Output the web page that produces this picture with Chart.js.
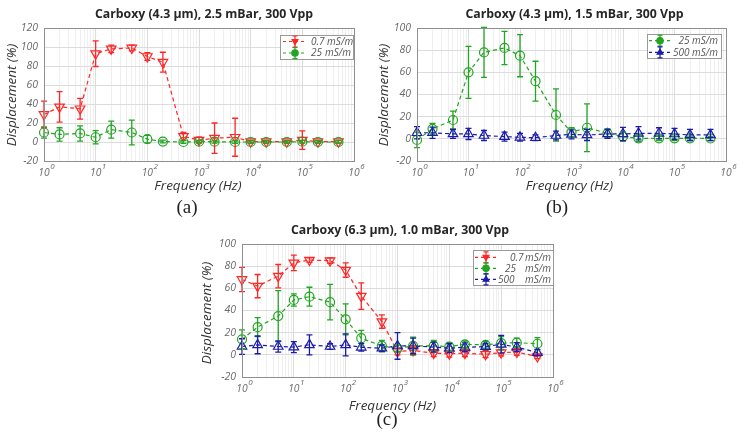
<!DOCTYPE html>
<html>
<head>
<meta charset="utf-8">
<script src="https://cdn.jsdelivr.net/npm/chart.js@4.4.1/dist/chart.umd.min.js"></script>
<style>
  html, body { margin: 0; padding: 0; background: #fff; }
  body { width: 744px; height: 436px; position: relative; overflow: hidden; }
  canvas { position: absolute; }
</style>
</head>
<body>
<canvas id="chartA" width="372" height="218" style="left:0;top:0"></canvas>
<canvas id="chartB" width="372" height="218" style="left:372px;top:0"></canvas>
<canvas id="chartC" width="400" height="218" style="left:180px;top:218px"></canvas>
<script>
// frequencies (Hz), shared by all panels
const freqs = [1, 2, 5, 10, 20, 50, 100, 200, 500, 1e3, 2e3, 5e3, 1e4, 2e4, 5e4, 1e5, 2e5, 5e5];
const decades = [0, 1, 2, 3, 4, 5, 6];

// (a) Carboxy 4.3 um, 2.5 mBar
const aLow    = [29, 37, 35, 93, 98, 99, 90, 84, 6, 2, 4, 5, 0.3, 0.3, 0.3, 2, 0.3, 0.3];
const aLowErr = [14, 16, 11, 13.5, 4, 3, 4, 10.5, 4, 3, 16, 20, 1.5, 1.5, 1.5, 9.7, 1.5, 1.5];
const aMid    = [10, 8, 9, 5, 13, 10, 3, 0.5, 0, 0.3, 0.3, 0, 0, 0, 0, 0.3, 0, 0];
const aMidErr = [6, 7, 8, 7, 9, 13, 4, 1.5, 1.5, 1.5, 1.5, 1.5, 1.5, 1.5, 1.5, 1.5, 1.5, 1.5];

// (b) Carboxy 4.3 um, 1.5 mBar
const bMid     = [-1, 9, 17, 60, 78, 82, 75, 52, 21.5, 6, 10, 5, 2, 0.5, 0.5, 0.5, 0.5, 0.3];
const bMidErr  = [7, 5, 8, 23.5, 22.5, 15, 19, 18, 23.5, 4, 21.5, 4, 4, 3, 2, 2, 2, 2];
const bHigh    = [5.5, 5.5, 4.4, 4.4, 3, 2, 1.4, 1, 3, 4, 3.5, 4.4, 4.4, 5, 5, 4.4, 3.5, 3.5];
const bHighErr = [5.5, 5, 4, 5, 4.5, 4, 3.5, 2.5, 4, 4, 5, 4, 6, 6, 5, 5, 5, 5];

// (c) Carboxy 6.3 um, 1.0 mBar
const cLow     = [68, 62, 71, 83, 85.5, 85, 76.5, 53, 30, 3, 4, 1.5, 1, 1.5, 0.5, 2, 2.5, -1.5];
const cLowErr  = [11, 10.5, 10.5, 7, 2, 2.5, 6.5, 12, 6, 3, 4, 3, 3, 3, 3, 3, 3, 2];
const cMid     = [14, 25, 35, 49.5, 52.5, 47.5, 32, 15, 8, 6, 8, 8, 7.5, 9.5, 9, 10.5, 11, 10];
const cMidErr  = [8.5, 8.5, 23, 5.5, 8.5, 16, 14, 7, 5, 3, 8, 5, 3.5, 3, 3, 6, 4, 5.5];
const cHigh    = [7.5, 9, 7.5, 7, 9, 7.5, 9, 6.8, 6, 8, 8, 7, 6, 6.8, 7.4, 9.5, 7, 2];
const cHighErr = [7, 8, 5, 5, 9, 2.5, 10, 3.5, 3, 12, 7, 4.5, 4, 4, 3, 8, 4, 3];

const RED = '#ff2626', GREEN = '#22a522', BLUE = '#1c1caa';
const FONT = '"Open Sans"';

function marker(ctx, style, x, y, r, fill) {
  ctx.beginPath();
  if (style === 'circle') {
    ctx.arc(x, y, r, 0, Math.PI * 2);
  } else {
    const dir = style === 'down' ? -1 : 1;
    ctx.moveTo(x, y - dir * r);
    ctx.lineTo(x + r * 0.9, y + dir * r * 0.6);
    ctx.lineTo(x - r * 0.9, y + dir * r * 0.6);
    ctx.closePath();
  }
  if (fill) ctx.fill();
  ctx.stroke();
}

const errorBars = {
  id: 'errorBars',
  afterDatasetsDraw(chart) {
    const ctx = chart.ctx, ys = chart.scales.y;
    ctx.save();
    chart.data.datasets.forEach((ds, i) => {
      const meta = chart.getDatasetMeta(i);
      ctx.strokeStyle = ds.borderColor;
      ctx.lineWidth = 1.3;
      meta.data.forEach((pt, j) => {
        const v = ds.data[j].y, e = ds.errors[j];
        const t = ys.getPixelForValue(v + e), b = ys.getPixelForValue(v - e);
        ctx.beginPath();
        ctx.moveTo(pt.x, t); ctx.lineTo(pt.x, b);
        ctx.moveTo(pt.x - 3, t); ctx.lineTo(pt.x + 3, t);
        ctx.moveTo(pt.x - 3, b); ctx.lineTo(pt.x + 3, b);
        ctx.stroke();
      });
    });
    ctx.restore();
  }
};

// frame, titles, x tick labels, legend
const deco = {
  id: 'deco',
  afterDraw(chart, args, o) {
    const ctx = chart.ctx, a = chart.chartArea, xs = chart.scales.x;
    ctx.save();
    ctx.strokeStyle = '#8f8f8f';
    ctx.lineWidth = 1;
    ctx.strokeRect(Math.round(a.left) + 0.5, Math.round(a.top) + 0.5,
                   Math.round(a.right - a.left), Math.round(a.bottom - a.top));

    // x tick labels 10^n
    ctx.fillStyle = '#6a6a6a';
    ctx.textBaseline = 'middle';
    decades.forEach(k => {
      const x = xs.getPixelForValue(Math.pow(10, k));
      ctx.font = 'italic 10.3px ' + FONT;
      ctx.textAlign = 'center';
      ctx.fillText('10', x, a.bottom + 11.7);
      const w = ctx.measureText('10').width;
      ctx.font = 'italic 8px ' + FONT;
      ctx.textAlign = 'left';
      ctx.fillText(String(k), x + w / 2 + 0.5, a.bottom + 5.5);
    });

    // title and axis titles
    ctx.fillStyle = '#262626';
    ctx.textAlign = 'center';
    ctx.font = 'bold 12.3px ' + FONT;
    ctx.fillText(o.title, o.titlePos[0], o.titlePos[1]);
    ctx.fillStyle = '#333';
    ctx.font = 'italic 13.5px ' + FONT;
    ctx.fillText('Frequency (Hz)', o.xlabelPos[0], o.xlabelPos[1]);
    ctx.save();
    ctx.translate(o.ylabelPos[0], o.ylabelPos[1]);
    ctx.rotate(-Math.PI / 2);
    ctx.fillText('Displacement (%)', 0, 0);
    ctx.restore();
    ctx.fillStyle = '#222';
    ctx.font = '19px "Liberation Serif"';
    ctx.fillText(o.letter, o.letterPos[0], o.letterPos[1]);

    // legend
    const L = o.legend;
    ctx.fillStyle = '#fff';
    ctx.fillRect(L.x, L.y, L.w, L.h);
    ctx.strokeStyle = '#9a9a9a';
    ctx.strokeRect(L.x + 0.5, L.y + 0.5, L.w, L.h);
    ctx.font = 'italic 10px ' + FONT;
    L.rows.forEach((row, i) => {
      const s = chart.data.datasets[i];
      ctx.strokeStyle = s.borderColor;
      ctx.fillStyle = s.borderColor;
      ctx.lineWidth = 1.2;
      ctx.setLineDash([3, 3]);
      ctx.beginPath();
      ctx.moveTo(L.s0, row.y); ctx.lineTo(L.s1, row.y);
      ctx.stroke();
      ctx.setLineDash([]);
      ctx.beginPath();
      ctx.moveTo(L.m, row.y - 5.5); ctx.lineTo(L.m, row.y + 5.5);
      ctx.moveTo(L.m - 2.5, row.y - 5.5); ctx.lineTo(L.m + 2.5, row.y - 5.5);
      ctx.moveTo(L.m - 2.5, row.y + 5.5); ctx.lineTo(L.m + 2.5, row.y + 5.5);
      ctx.stroke();
      marker(ctx, s.mark, L.m, row.y, 3.2, true);
      ctx.fillStyle = '#555';
      row.parts.forEach(p => {
        ctx.textAlign = p.align || 'left';
        ctx.fillText(p.t, p.x, row.y + 0.5);
      });
    });
    ctx.restore();
  }
};

function makePanel(id, p) {
  const cv = document.getElementById(id);
  const W = cv.width, H = cv.height, A = p.area;
  const styles = { down: 'triangle', up: 'triangle', circle: 'circle' };
  new Chart(cv, {
    type: 'line',
    data: {
      datasets: p.series.map((s, i) => ({
        label: s.label,
        data: freqs.map((f, j) => ({ x: f, y: s.values[j] })),
        errors: s.errors,
        mark: s.mark,
        borderColor: s.color,
        backgroundColor: s.color,
        borderWidth: 1.2,
        borderDash: [4, 3],
        pointStyle: styles[s.mark],
        pointRotation: s.mark === 'down' ? 180 : 0,
        pointRadius: s.mark === 'circle' ? 4.5 : 5.5,
        pointBorderWidth: 1.2,
        pointBackgroundColor: 'rgba(0,0,0,0)',
        pointBorderColor: s.color,
        order: p.series.length - i,
        clip: false,
        tension: 0
      }))
    },
    options: {
      responsive: false,
      animation: false,
      events: [],
      layout: { padding: { left: 0, top: A.t, right: W - A.r, bottom: 0 } },
      plugins: {
        legend: { display: false },
        tooltip: { enabled: false },
        deco: p.deco
      },
      scales: {
        x: {
          type: 'logarithmic',
          min: 1,
          max: 1e6,
          afterBuildTicks: scale => {
            const t = [];
            decades.forEach(k => {
              for (let m = 1; m <= 9; m++) {
                const v = m * Math.pow(10, k);
                if (v <= 1e6) t.push({ value: v, major: m === 1 });
              }
            });
            scale.ticks = t;
          },
          afterFit: s => { s.height = H - A.b; },
          ticks: { display: false },
          grid: {
            drawTicks: false,
            color: c => (c.tick && c.tick.major) ? '#dcdcdc' : '#efefef'
          },
          border: { display: false }
        },
        y: {
          min: -20,
          max: p.ymax,
          afterFit: s => { s.width = A.l; },
          ticks: {
            stepSize: 20,
            padding: 6,
            color: '#6a6a6a',
            font: { family: 'Open Sans', size: 10.5, style: 'italic' }
          },
          grid: { drawTicks: false, color: '#dcdcdc' },
          border: { display: false }
        }
      }
    },
    plugins: [errorBars, deco]
  });
}

makePanel('chartA', {
  area: { l: 44, r: 354, t: 28, b: 161 },
  ymax: 120,
  series: [
    { label: '0.7 mS/m', values: aLow, errors: aLowErr, color: RED, mark: 'down' },
    { label: '25 mS/m', values: aMid, errors: aMidErr, color: GREEN, mark: 'circle' }
  ],
  deco: {
    title: 'Carboxy (4.3 μm), 2.5 mBar, 300 Vpp', titlePos: [204, 14],
    xlabelPos: [198, 186], ylabelPos: [12, 95], letter: '(a)', letterPos: [187, 208],
    legend: {
      x: 280, y: 35, w: 73, h: 24, s0: 283, s1: 307, m: 295,
      rows: [
        { y: 41.5, parts: [{ t: '0.7 mS/m', x: 311 }] },
        { y: 53, parts: [{ t: '25', x: 311 }, { t: 'mS/m', x: 351, align: 'right' }] }
      ]
    }
  }
});

makePanel('chartB', {
  area: { l: 45, r: 354, t: 28, b: 161 },
  ymax: 100,
  series: [
    { label: '25 mS/m', values: bMid, errors: bMidErr, color: GREEN, mark: 'circle' },
    { label: '500 mS/m', values: bHigh, errors: bHighErr, color: BLUE, mark: 'up' }
  ],
  deco: {
    title: 'Carboxy (4.3 μm), 1.5 mBar, 300 Vpp', titlePos: [202.5, 14],
    xlabelPos: [197.5, 186], ylabelPos: [12, 95], letter: '(b)', letterPos: [185, 208],
    legend: {
      x: 275, y: 34, w: 74, h: 24, s0: 277, s1: 300, m: 288,
      rows: [
        { y: 40.7, parts: [{ t: '25 mS/m', x: 346, align: 'right' }] },
        { y: 52.3, parts: [{ t: '500 mS/m', x: 346, align: 'right' }] }
      ]
    }
  }
});

makePanel('chartC', {
  area: { l: 62, r: 373, t: 26, b: 159 },
  ymax: 100,
  series: [
    { label: '0.7 mS/m', values: cLow, errors: cLowErr, color: RED, mark: 'down' },
    { label: '25 mS/m', values: cMid, errors: cMidErr, color: GREEN, mark: 'circle' },
    { label: '500 mS/m', values: cHigh, errors: cHighErr, color: BLUE, mark: 'up' }
  ],
  deco: {
    title: 'Carboxy (6.3 μm), 1.0 mBar, 300 Vpp', titlePos: [220, 12],
    xlabelPos: [212.5, 188], ylabelPos: [27, 95], letter: '(c)', letterPos: [207, 202],
    legend: {
      x: 293, y: 32, w: 80, h: 35, s0: 295, s1: 317, m: 306,
      rows: [
        { y: 39.3, parts: [{ t: '0.7', x: 330 }, { t: 'mS/m', x: 371, align: 'right' }] },
        { y: 50.3, parts: [{ t: '25', x: 325 }, { t: 'mS/m', x: 371, align: 'right' }] },
        { y: 61.3, parts: [{ t: '500', x: 318 }, { t: 'mS/m', x: 371, align: 'right' }] }
      ]
    }
  }
});
</script>
</body>
</html>
